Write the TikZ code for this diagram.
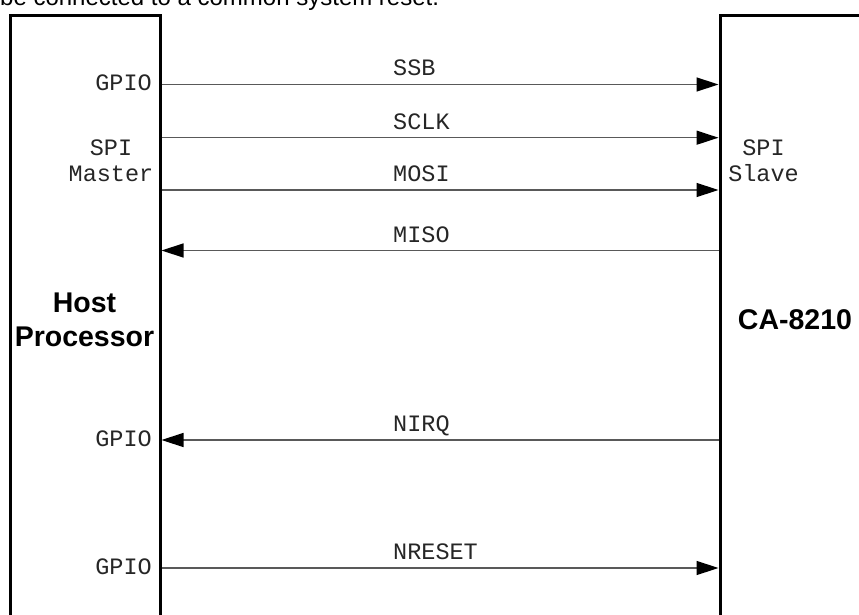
\documentclass[tikz,border=0pt]{standalone}
\usepackage{fontspec}
\setmainfont{Liberation Sans}
\newfontfamily\monof{Liberation Mono}
\usetikzlibrary{arrows.meta}
\begin{document}
\begin{tikzpicture}[x=1pt,y=-1pt,
  boxline/.style={line width=3pt,black},
  sig/.style={line width=1.4pt,black!65},
  tip/.style={-{Triangle[length=22pt,width=14pt,color=black]}},
  mono/.style={inner sep=0pt,font=\monof\fontsize{23.5}{26}\selectfont,text=black!85},
  big/.style={inner sep=0pt,font=\bfseries\fontsize{28.5}{34}\selectfont},
  note/.style={inner sep=0pt,font=\fontsize{24}{26}\selectfont}]
\useasboundingbox (0,0) rectangle (859,615);
\clip (0,0) rectangle (859,615);
% cut-off sentence at the top
\node[note,anchor=base west] (topnote) at (0,6) {be connected to a common system reset.};
% the two blocks (bottoms run off the picture)
\draw[boxline] (10,640) -- (10,16) -- (160,16) -- (160,640);
\draw[boxline] (720,640) -- (720,16) -- (890,16) -- (890,640);
% connector end points on the block edges
\coordinate (hSSB)  at (161.5,84.5);  \coordinate (sSSB)  at (718.5,84.5);
\coordinate (hSCLK) at (161.5,137.7); \coordinate (sSCLK) at (718.5,137.7);
\coordinate (hMOSI) at (161.5,190);   \coordinate (sMOSI) at (718.5,190);
\coordinate (hMISO) at (161.5,250.5); \coordinate (sMISO) at (718.5,250.5);
\coordinate (hNIRQ) at (161.5,440);   \coordinate (sNIRQ) at (718.5,440);
\coordinate (hNRST) at (161.5,568);   \coordinate (sNRST) at (718.5,568);
% connectors
\draw[sig,tip] (hSSB) -- (sSSB);
\draw[sig,tip] (hSCLK) -- (sSCLK);
\draw[sig,tip] (hMOSI) -- (sMOSI);
\draw[sig,tip] (sMISO) -- (hMISO);
\draw[sig,tip] (sNIRQ) -- (hNIRQ);
\draw[sig,tip] (hNRST) -- (sNRST);
% signal names
\node[mono,anchor=base west] (lSSB)  at (393,76)    {SSB};
\node[mono,anchor=base west] (lSCLK) at (393,129)   {SCLK};
\node[mono,anchor=base west] (lMOSI) at (393,181.5) {MOSI};
\node[mono,anchor=base west] (lMISO) at (393,242.5) {MISO};
\node[mono,anchor=base west] (lNIRQ) at (393,431.5) {NIRQ};
\node[mono,anchor=base west] (lNRST) at (393,559.5) {NRESET};
% pin labels, host side
\node[mono,anchor=base east] (gpio1) at (152,91)  {GPIO};
\node[mono,anchor=base] (spim) at (111,155) {SPI};
\node[mono,anchor=base] (mast) at (111,181) {Master};
\node[mono,anchor=base east] (gpio2) at (152,446) {GPIO};
\node[mono,anchor=base east] (gpio3) at (152,574) {GPIO};
% pin labels, slave side
\node[mono,anchor=base] (spis) at (763.5,156) {SPI};
\node[mono,anchor=base] (slav) at (763.5,181) {Slave};
% block names
\node[big,anchor=base] (host) at (84.5,312) {Host};
\node[big,anchor=base] (proc) at (84.5,346.5) {Processor};
\node[big,anchor=base] (ca) at (795,329.5) {CA-8210};
\end{tikzpicture}
\end{document}
